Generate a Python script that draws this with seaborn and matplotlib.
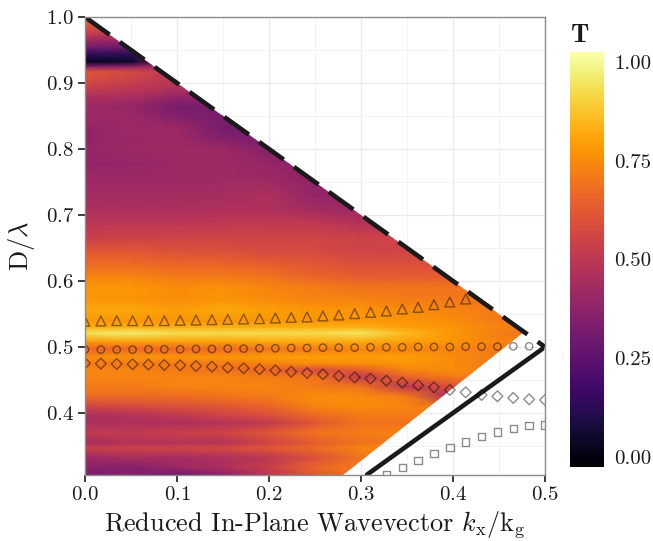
import numpy as np
import seaborn as sns
from matplotlib import pyplot as plt
from matplotlib.patches import Polygon
from matplotlib.ticker import MultipleLocator

# 网格: 横向波矢 / 纵向 D/lambda
kx_grid = [0, .05, .1, .15, .2, .25, .3, .35, .4, .45, .5]
d_grid = [.306, .318, .332, .347, .355, .37, .385, .397, .41, .425, .44, .455, .465, .475, .485,
          .497, .508, .521, .53, .54, .556, .571, .591, .606, .626, .646, .666, .687, .707, .727,
          .752, .778, .80, .815, .83, .85, .865, .88, .895, .917, .925, .932, .942, .955, .97, .985, 1.0]
trans = [
    [.32, .35, .30, .38, .50, .62, .72, .74, .74, .74, .74],
    [.38, .36, .42, .46, .54, .66, .72, .74, .74, .74, .74],
    [.42, .45, .44, .46, .50, .60, .70, .72, .72, .72, .72],
    [.54, .55, .56, .58, .62, .68, .74, .76, .76, .76, .76],
    [.44, .48, .48, .48, .56, .64, .70, .72, .72, .72, .72],
    [.52, .52, .54, .56, .62, .70, .72, .74, .74, .74, .74],
    [.46, .46, .46, .48, .52, .62, .70, .70, .70, .70, .70],
    [.46, .48, .52, .56, .60, .68, .72, .72, .72, .72, .72],
    [.56, .58, .60, .62, .66, .74, .76, .74, .72, .72, .72],
    [.68, .68, .68, .70, .72, .76, .76, .72, .42, .42, .42],
    [.72, .72, .74, .74, .74, .72, .70, .50, .60, .60, .60],
    [.74, .74, .74, .74, .72, .70, .52, .66, .72, .72, .72],
    [.74, .74, .72, .70, .66, .58, .64, .74, .76, .72, .72],
    [.72, .72, .72, .72, .74, .76, .76, .78, .76, .70, .70],
    [.76, .78, .78, .78, .80, .80, .80, .80, .76, .72, .72],
    [.66, .67, .67, .68, .70, .72, .74, .74, .74, .72, .70],
    [.78, .80, .80, .80, .82, .82, .82, .80, .78, .74, .72],
    [.94, .97, .93, .93, .93, .93, .95, .86, .78, .72, .70],
    [.84, .84, .84, .84, .84, .84, .84, .80, .78, .74, .70],
    [.78, .78, .78, .78, .78, .78, .78, .78, .76, .72, .68],
    [.82, .82, .80, .82, .80, .78, .78, .76, .74, .72, .70],
    [.78, .78, .76, .78, .76, .74, .74, .72, .72, .70, .70],
    [.78, .78, .76, .77, .74, .72, .70, .70, .70, .70, .70],
    [.74, .74, .72, .72, .70, .66, .64, .64, .64, .64, .64],
    [.68, .68, .66, .66, .64, .62, .60, .60, .60, .60, .60],
    [.62, .62, .60, .60, .58, .58, .56, .56, .56, .56, .56],
    [.54, .55, .56, .56, .56, .56, .55, .55, .55, .55, .55],
    [.50, .50, .50, .51, .52, .52, .48, .48, .48, .48, .48],
    [.46, .46, .46, .47, .47, .44, .42, .42, .42, .42, .42],
    [.44, .44, .44, .45, .46, .40, .40, .40, .40, .40, .40],
    [.42, .42, .42, .43, .43, .38, .38, .38, .38, .38, .38],
    [.39, .40, .42, .43, .40, .36, .36, .36, .36, .36, .36],
    [.40, .42, .43, .42, .36, .34, .34, .34, .34, .34, .34],
    [.39, .41, .42, .36, .33, .33, .33, .33, .33, .33, .33],
    [.39, .42, .42, .32, .34, .34, .34, .34, .34, .34, .34],
    [.42, .42, .35, .33, .34, .34, .34, .34, .34, .34, .34],
    [.43, .40, .33, .33, .34, .34, .34, .34, .34, .34, .34],
    [.46, .46, .40, .40, .40, .40, .40, .40, .40, .40, .40],
    [.55, .52, .48, .48, .48, .48, .48, .48, .48, .48, .48],
    [.62, .58, .50, .50, .50, .50, .50, .50, .50, .50, .50],
    [.35, .38, .48, .45, .45, .45, .45, .45, .45, .45, .45],
    [.03, .06, .42, .45, .45, .45, .45, .45, .45, .45, .45],
    [.12, .12, .38, .40, .40, .40, .40, .40, .40, .40, .40],
    [.32, .30, .38, .38, .38, .38, .38, .38, .38, .38, .38],
    [.48, .45, .45, .45, .45, .45, .45, .45, .45, .45, .45],
    [.60, .58, .58, .58, .58, .58, .58, .58, .58, .58, .58],
    [.64, .62, .62, .62, .62, .62, .62, .62, .62, .62, .62],
]

# 模式的标记点
kx = np.linspace(0, 0.5, 30)
triangles = [.5389, .5394, .5399, .5399, .5399, .5399, .5404, .5409, .5414, .5419, .5424, .5429, .5439,
             .5449, .5455, .5470, .5485, .5505, .5525, .5545, .5576, .5601, .5641, .5682, .5727]
circles = [.4960, .4960, .4960, .4960, .4965, .4965, .4965, .4970, .4970, .4975, .4975, .4980, .4980, .4985,
           .4985, .4990, .4990, .4990, .4995, .4995, .4995, .5000, .5000, .5000, .5005, .5005, .5005, .5010, .5010]
diamonds = [.4753, .4748, .4743, .4738, .4733, .4727, .4722, .4712, .4702, .4687, .4677, .4662, .4646, .4626, .4606,
            .4586, .4561, .4540, .4520, .4490, .4460, .4419, .4389, .4349, .4313, .4273, .4253, .4228, .4207, .4197]
squares = [.3066, .3177, .3283, .3384, .3475, .3561, .3641, .3712, .3768, .3808, .3818]

edge_x = [0, .5]
edge_upper = [1, .5]
light_x = [.3065, .497]
light_y = [.3065, .497]
patch_edge = [(0, 1), (.477, .523), (.28, .306), (0, .306)]

sns.set_theme(style='whitegrid', rc={'text.color': 'k', 'axes.labelcolor': 'k',
                                     'xtick.labelcolor': 'k', 'ytick.labelcolor': 'k'})
plt.rcParams['font.family'] = ['cmr10']
plt.rcParams['mathtext.fontset'] = 'cm'
plt.rcParams['axes.formatter.use_mathtext'] = True

fig = plt.figure(figsize=(6.53, 5.41), dpi=100)
ax = fig.add_axes([85 / 653, 1 - 475 / 541, 460 / 653, 458 / 541])

mesh = ax.pcolormesh(kx_grid, d_grid, np.array(trans), cmap='inferno', vmin=-0.025, vmax=1.025,
                     shading='gouraud', zorder=2)
mesh.set_clip_path(Polygon(patch_edge, transform=ax.transData))

sns.lineplot(x=edge_x, y=edge_upper, color='k', lw=3.3, linestyle=(0, (6.6, 2.75)), ax=ax, zorder=3)
sns.lineplot(x=light_x, y=light_y, color='k', lw=3.3, ax=ax, zorder=3)

mark = dict(facecolors='none', edgecolor=(0, 0, 0, 0.45), linewidth=1.0, ax=ax, zorder=4)
sns.scatterplot(x=kx[:len(triangles)], y=triangles, marker='^', s=50, **mark)
sns.scatterplot(x=kx[:len(circles)], y=circles, marker='o', s=28, **mark)
sns.scatterplot(x=kx, y=diamonds, marker='D', s=30, **mark)
sns.scatterplot(x=kx[19:], y=squares, marker='s', s=28, **mark)

ax.set_xlim(0, 0.5)
ax.set_ylim(0.306, 1.0)
ax.xaxis.set_major_locator(MultipleLocator(0.1))
ax.yaxis.set_major_locator(MultipleLocator(0.1))
ax.xaxis.set_minor_locator(MultipleLocator(0.05))
ax.yaxis.set_minor_locator(MultipleLocator(0.05))
ax.grid(which='major', color='#ebebeb', lw=1)
ax.grid(which='minor', color='#f3f3f3', lw=0.7)
ax.set_axisbelow(True)
ax.tick_params(which='major', length=5, width=1.2, color='k', labelsize=15, pad=3, left=True, bottom=True)
ax.tick_params(which='minor', length=0)
for s in ax.spines.values():
    s.set_color('#8c8c8c')
    s.set_linewidth(1)
    s.set_zorder(5)
ax.set_xlabel(r'Reduced In-Plane Wavevector $k_{\mathrm{x}}/\mathrm{k_g}$', fontsize=18.9, labelpad=4)
ax.set_ylabel(r'$\mathrm{D}/\lambda$', fontsize=19, labelpad=6)

# 颜色条
cax = fig.add_axes([570 / 653, 1 - 467 / 541, 34 / 653, 415 / 541])
cbar = fig.colorbar(mesh, cax=cax, ticks=[0, .25, .5, .75, 1])
cbar.outline.set_visible(False)
cbar.solids.set_edgecolor('face')
cbar.ax.yaxis.set_major_formatter(plt.FormatStrFormatter('%.2f'))
cax.tick_params(left=True, right=True, direction='in', length=5, width=0.8, color='white',
                labelcolor='k', labelsize=15, pad=7)
cax.grid(False)
cax.text(0, 1.012, r'$\mathbf{T}$', transform=cax.transAxes, fontsize=19, ha='left', va='bottom')

fig.savefig('out.png', dpi=100)
